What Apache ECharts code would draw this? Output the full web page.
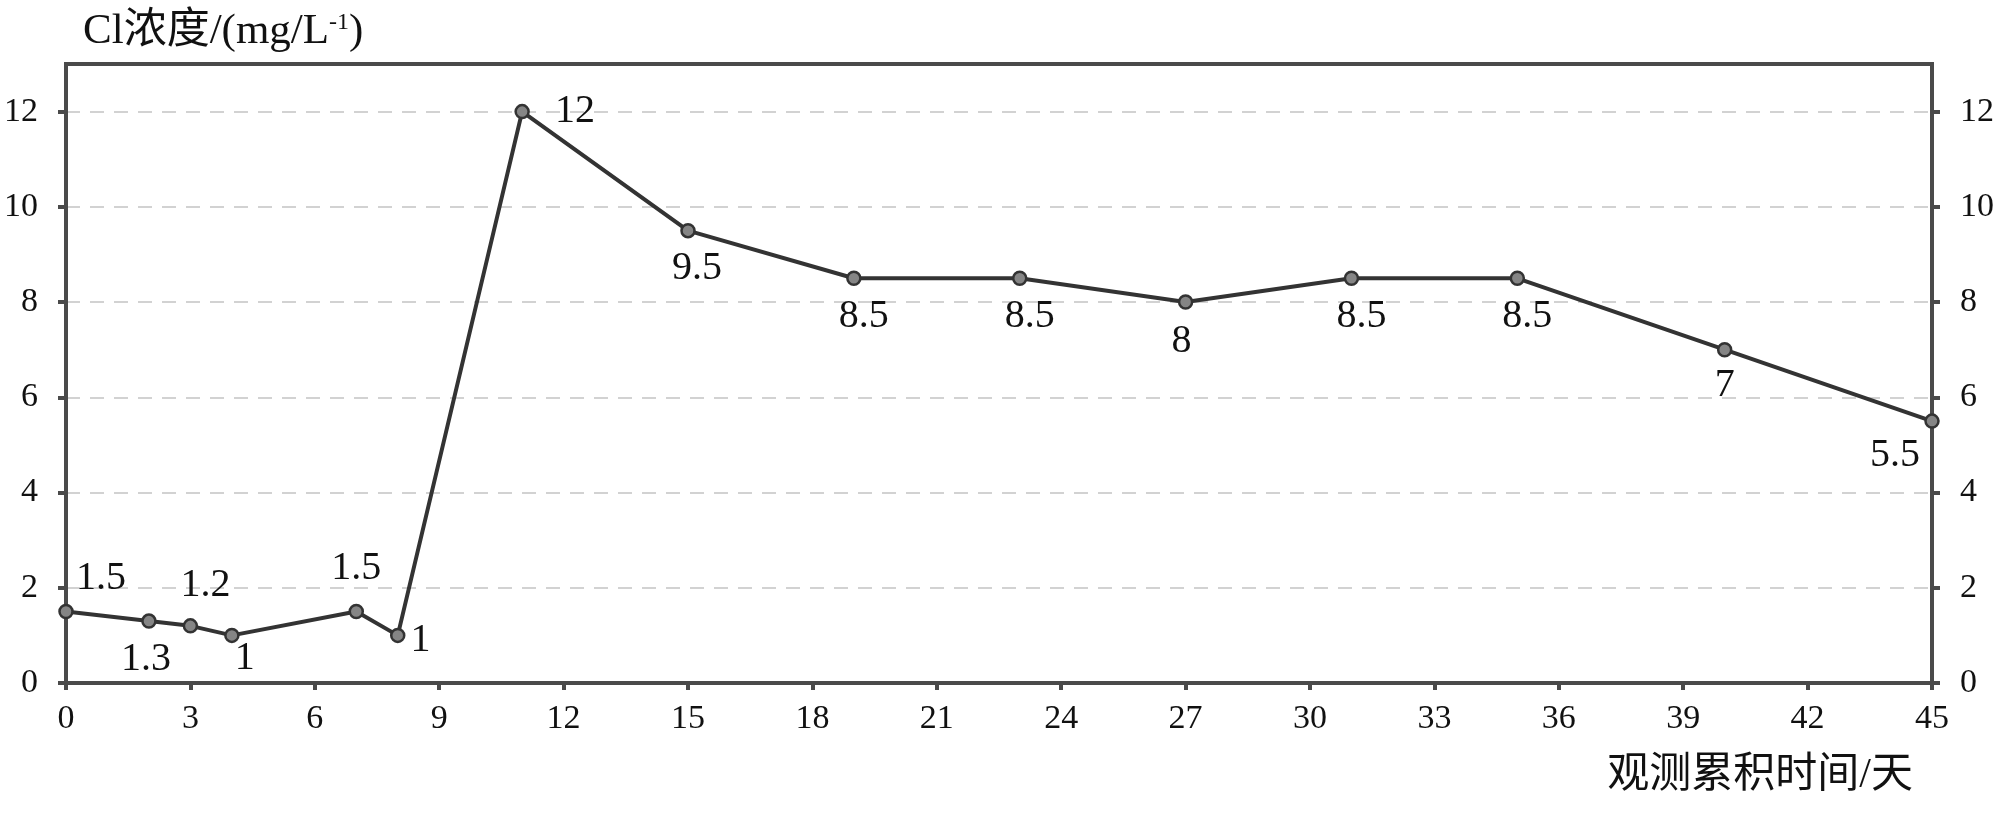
<!DOCTYPE html>
<html>
<head>
<meta charset="utf-8">
<script src="https://cdn.jsdelivr.net/npm/echarts@6/dist/echarts.min.js"></script>
<style>
  html, body { margin: 0; padding: 0; background: #fff; }
  #main { width: 2000px; height: 814px; }
</style>
</head>
<body>
<div id="main"></div>
<script>
// observation day and Cl concentration
var days = [0, 2, 3, 4, 7, 8, 11, 15, 19, 23, 27, 31, 35, 40, 45];
var chloride = [1.5, 1.3, 1.2, 1, 1.5, 1, 12, 9.5, 8.5, 8.5, 8, 8.5, 8.5, 7, 5.5];
// where each value label sits: [position, dx, dy]
var labelPlace = [
  ['top', 35, 0], ['bottom', -3, 6], ['top', 15, -8], ['bottom', 13, -10],
  ['top', 0, -10], ['right', 0, 5], ['right', 20, 0], ['bottom', 9, 5],
  ['bottom', 10, 5], ['bottom', 10, 5], ['bottom', -4, 7], ['bottom', 10, 5],
  ['bottom', 10, 5], ['bottom', 0, 3], ['bottom', -37, 2]
];

var font = 'Liberation Serif, Noto Sans CJK SC';
var axisColor = '#4a4a4a';

var seriesData = days.map(function (d, i) {
  return {
    value: [d, chloride[i]],
    label: { position: labelPlace[i][0], offset: [labelPlace[i][1], labelPlace[i][2]] }
  };
});

var myChart = echarts.init(document.getElementById('main'));
var option = {
  backgroundColor: '#fff',
  animation: false,
  grid: { left: 66, right: 68, top: 64, bottom: 131, show: true, borderColor: axisColor, borderWidth: 4 },
  xAxis: {
    type: 'value',
    min: 0, max: 45, interval: 3,
    name: '观测累积时间/天',
    nameLocation: 'end',
    nameGap: 0,
    nameTextStyle: { fontFamily: font, fontSize: 42, color: '#111', align: 'right', verticalAlign: 'top', padding: [72, 19, 0, 0] },
    axisLine: { lineStyle: { color: axisColor, width: 4 } },
    axisTick: { length: 7, lineStyle: { color: axisColor, width: 4 } },
    axisLabel: { margin: 19, fontFamily: font, fontSize: 34, color: '#111' },
    splitLine: { show: false }
  },
  yAxis: [{
    type: 'value',
    min: 0, max: 13, interval: 2,
    name: '{t|Cl浓度/(mg/L}{s|-1}{t|)}',
    nameLocation: 'end',
    nameGap: 32,
    nameTextStyle: {
      align: 'left', verticalAlign: 'middle', padding: [0, 0, 0, 17],
      rich: {
        t: { fontFamily: font, fontSize: 43, color: '#111' },
        s: { fontFamily: font, fontSize: 24, color: '#111', verticalAlign: 'top', padding: [0, 0, 16, 0] }
      }
    },
    axisLine: { show: true, lineStyle: { color: axisColor, width: 4 } },
    axisTick: { show: true, length: 8, lineStyle: { color: axisColor, width: 4 } },
    axisLabel: { margin: 28, fontFamily: font, fontSize: 34, color: '#111', showMaxLabel: false },
    splitLine: { show: true, showMaxLine: false, showMinLine: false, lineStyle: { color: '#d2d2d2', width: 2, type: [14, 10] } }
  }, {
    type: 'value',
    position: 'right',
    min: 0, max: 13, interval: 2,
    axisLine: { show: true, lineStyle: { color: axisColor, width: 4 } },
    axisTick: { show: true, length: 8, lineStyle: { color: axisColor, width: 4 } },
    axisLabel: { margin: 28, fontFamily: font, fontSize: 34, color: '#111', showMaxLabel: false },
    splitLine: { show: false }
  }],
  series: [{
    type: 'line',
    data: seriesData,
    symbol: 'circle',
    symbolSize: 13,
    lineStyle: { color: '#333', width: 4 },
    itemStyle: { color: '#858585', borderColor: '#333', borderWidth: 2.5 },
    label: { show: true, distance: 5, fontFamily: font, fontSize: 40, color: '#111',
      formatter: function (p) { return p.value[1]; } },
    z: 5
  }]
};
myChart.setOption(option);
</script>
</body>
</html>
